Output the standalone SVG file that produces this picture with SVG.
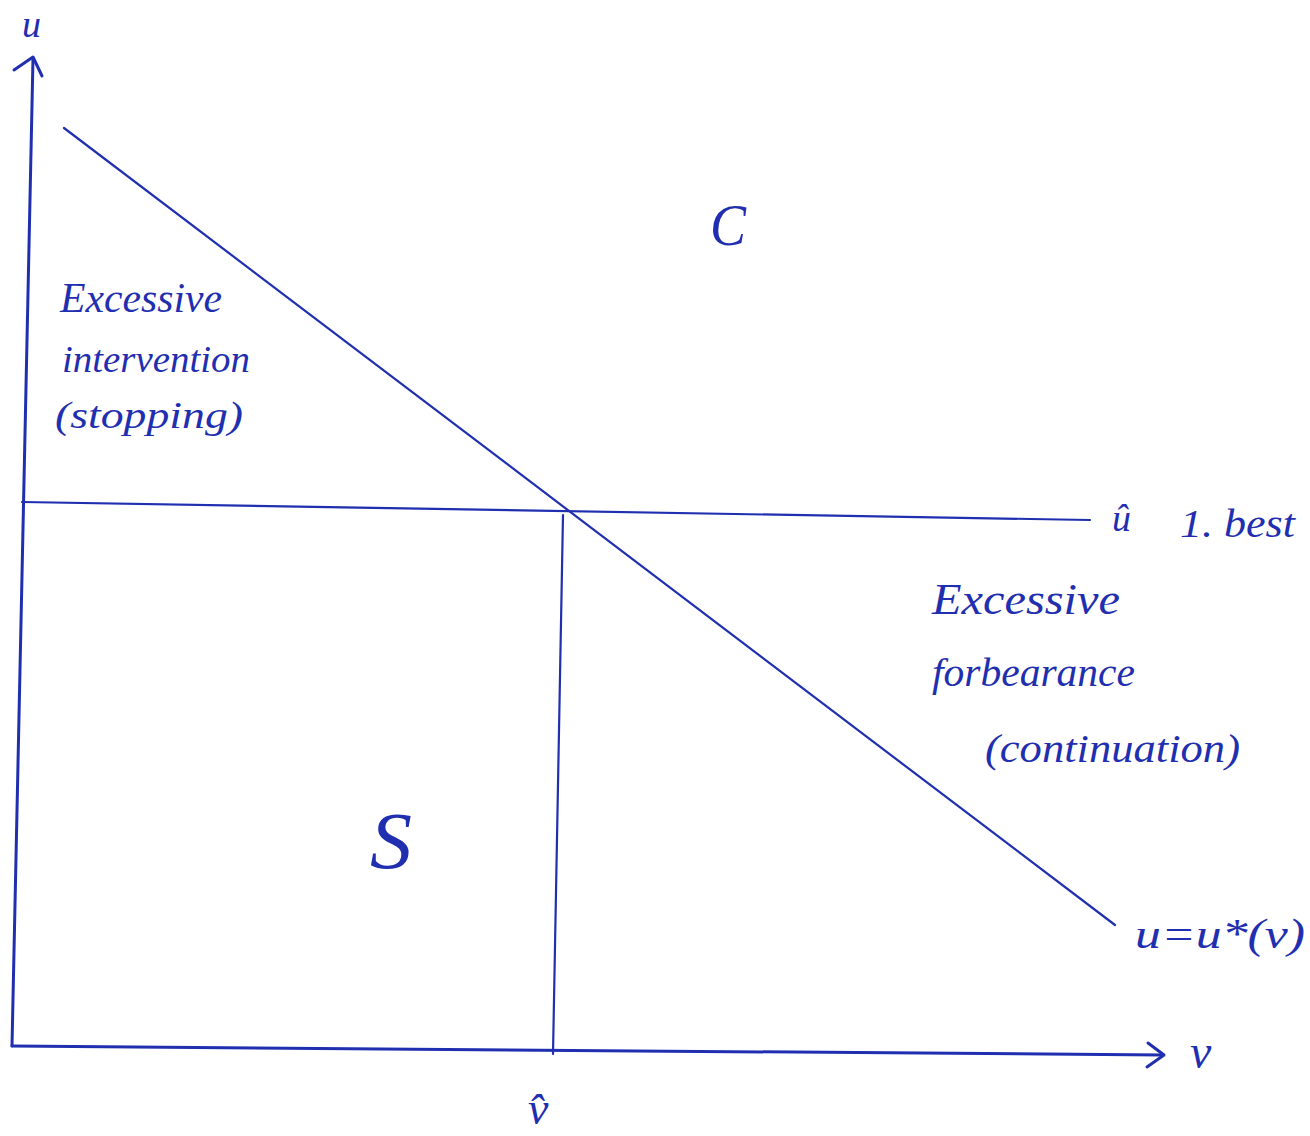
<svg xmlns="http://www.w3.org/2000/svg" width="1310" height="1136" viewBox="0 0 1310 1136">
<style>
.ln{stroke:#1f2fb0;stroke-width:2.2;fill:none;stroke-linecap:round;stroke-linejoin:round}
.ax{stroke:#1f2fb0;stroke-width:3;fill:none;stroke-linecap:round;stroke-linejoin:round}
.t{font-family:"Liberation Serif","DejaVu Serif",serif;font-style:italic;fill:#1f2fb0}
</style>
<rect width="1310" height="1136" fill="#ffffff"/>
<g id="connectors">
  <path id="u-axis" class="ax" d="M12,1046 L33,58"/>
  <path id="u-arrow" class="ax" d="M14,70 L33,57 L42,76"/>
  <path id="v-axis" class="ax" d="M12,1046 L1162,1055"/>
  <path id="v-arrow" class="ax" d="M1148,1043 L1164,1055 L1147,1067"/>
  <path id="u-star-line" class="ln" d="M64,128 L1115,925"/>
  <path id="u-hat-line" class="ln" d="M22,502 L1090,520"/>
  <path id="v-hat-line" class="ln" d="M563,515 L553,1054"/>
</g>
<g id="label-u"><text class="t" x="22" y="37" font-size="38">u</text></g>
<g id="region-C"><text class="t" x="710" y="245" font-size="60" textLength="36" lengthAdjust="spacingAndGlyphs">C</text></g>
<g id="excessive-intervention">
  <text class="t" x="60" y="312" font-size="42" textLength="162" lengthAdjust="spacingAndGlyphs">Excessive</text>
  <text class="t" x="62" y="372" font-size="38" textLength="188" lengthAdjust="spacingAndGlyphs">intervention</text>
  <text class="t" x="55" y="428" font-size="38" textLength="188" lengthAdjust="spacingAndGlyphs">(stopping)</text>
</g>
<g id="label-u-hat"><text class="t" x="1112" y="531" font-size="38">û</text></g>
<g id="label-first-best"><text class="t" x="1180" y="537" font-size="40" textLength="115" lengthAdjust="spacingAndGlyphs">1. best</text></g>
<g id="excessive-forbearance">
  <text class="t" x="932" y="614" font-size="44" textLength="188" lengthAdjust="spacingAndGlyphs">Excessive</text>
  <text class="t" x="932" y="686" font-size="40" textLength="203" lengthAdjust="spacingAndGlyphs">forbearance</text>
  <text class="t" x="985" y="762" font-size="40" textLength="255" lengthAdjust="spacingAndGlyphs">(continuation)</text>
</g>
<g id="region-S"><text class="t" x="370" y="868" font-size="80" textLength="42" lengthAdjust="spacingAndGlyphs">S</text></g>
<g id="label-u-star"><text class="t" x="1135" y="948" font-size="42" textLength="170" lengthAdjust="spacingAndGlyphs">u=u*(v)</text></g>
<g id="label-v"><text class="t" x="1190" y="1068" font-size="48">v</text></g>
<g id="label-v-hat"><text class="t" x="528" y="1124" font-size="46">v̂</text></g>
</svg>
